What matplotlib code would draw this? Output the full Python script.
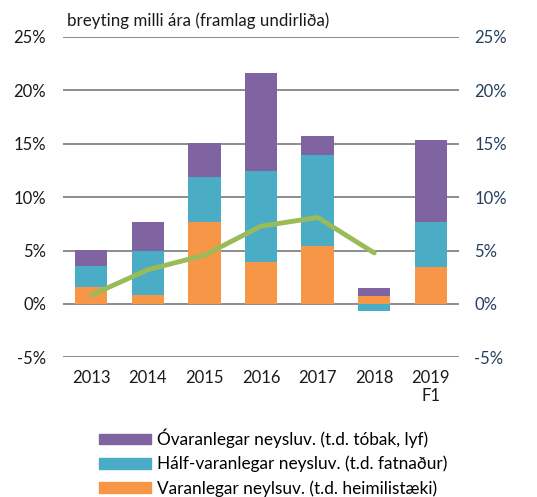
import numpy as np
import matplotlib.pyplot as plt
from matplotlib.patches import Patch

years = ['2013', '2014', '2015', '2016', '2017', '2018', '2019\nF1']
varanlegar = [1.6, 0.82, 7.66, 3.97, 5.47, 0.79, 3.47]
half_varanlegar = [1.95, 4.18, 4.19, 8.5, 8.47, -0.65, 4.25]
ovaranlegar = [1.48, 2.7, 3.25, 9.18, 1.81, 0.71, 7.65]
total = [0.82, 3.2, 4.56, 7.28, 8.1, 4.78]

labels = ['Óvaranlegar neysluv. (t.d. tóbak, lyf)',
          'Hálf-varanlegar neysluv. (t.d. fatnaður)',
          'Varanlegar neylsuv. (t.d. heimilistæki)']
c_purple = '#8064A2'
c_teal = '#4BACC6'
c_orange = '#F79646'
c_green = '#9BBB59'

plt.rcParams['font.family'] = ['Lato', 'DejaVu Sans']
fig = plt.figure(figsize=(5.37, 4.97), dpi=100)
ax = fig.add_axes([0.117, 0.281, 0.738, 0.6446])

x = np.arange(len(years))
w = 0.57
v = np.array(varanlegar)
h = np.array(half_varanlegar)
o = np.array(ovaranlegar)

ax.bar(x, v, w, color=c_orange, zorder=2)
# negative half-durable goes below zero
h_bottom = np.where(h >= 0, v, 0)
ax.bar(x, h, w, bottom=h_bottom, color=c_teal, zorder=2)
o_bottom = np.where(h >= 0, v + h, v)
ax.bar(x, o, w, bottom=o_bottom, color=c_purple, zorder=2)
ax.plot(x[:len(total)], total, color=c_green, lw=3.5, zorder=3, solid_capstyle='round')

ax.set_ylim(-5, 25)
ax.set_xlim(-0.5, len(years) - 0.5)
ax.set_yticks(range(-5, 26, 5))
ax.set_yticklabels(['%d%%' % t for t in range(-5, 26, 5)])
ax.yaxis.grid(True, color='#8c8c8c', lw=1.4, zorder=0)
ax.set_axisbelow(True)
ax.set_xticks(x)
ax.set_xticklabels(years)
for s in ax.spines.values():
    s.set_visible(False)
ax.tick_params(length=0, labelsize=12, colors='#1a1a1a')
ax.tick_params(axis='y', pad=12)
ax.tick_params(axis='x', pad=9)

ax2 = ax.twinx()
ax2.set_ylim(-5, 25)
ax2.set_yticks(range(-5, 26, 5))
ax2.set_yticklabels(['%d%%' % t for t in range(-5, 26, 5)])
for s in ax2.spines.values():
    s.set_visible(False)
ax2.tick_params(length=0, labelsize=12, colors='#243F60', pad=11)

fig.text(0.125, 0.958, 'breyting milli ára (framlag undirliða)', fontsize=12.2,
         color='#1a1a1a', va='center', ha='left')

handles = [Patch(color=c) for c in [c_purple, c_teal, c_orange]]
fig.legend(handles, labels, loc='center left', bbox_to_anchor=(0.172, 0.069),
           frameon=False, fontsize=12.4, handlelength=3.0, handleheight=0.55,
           handletextpad=0.35, labelspacing=0.45, borderaxespad=0)

fig.savefig('out.png', dpi=100)
